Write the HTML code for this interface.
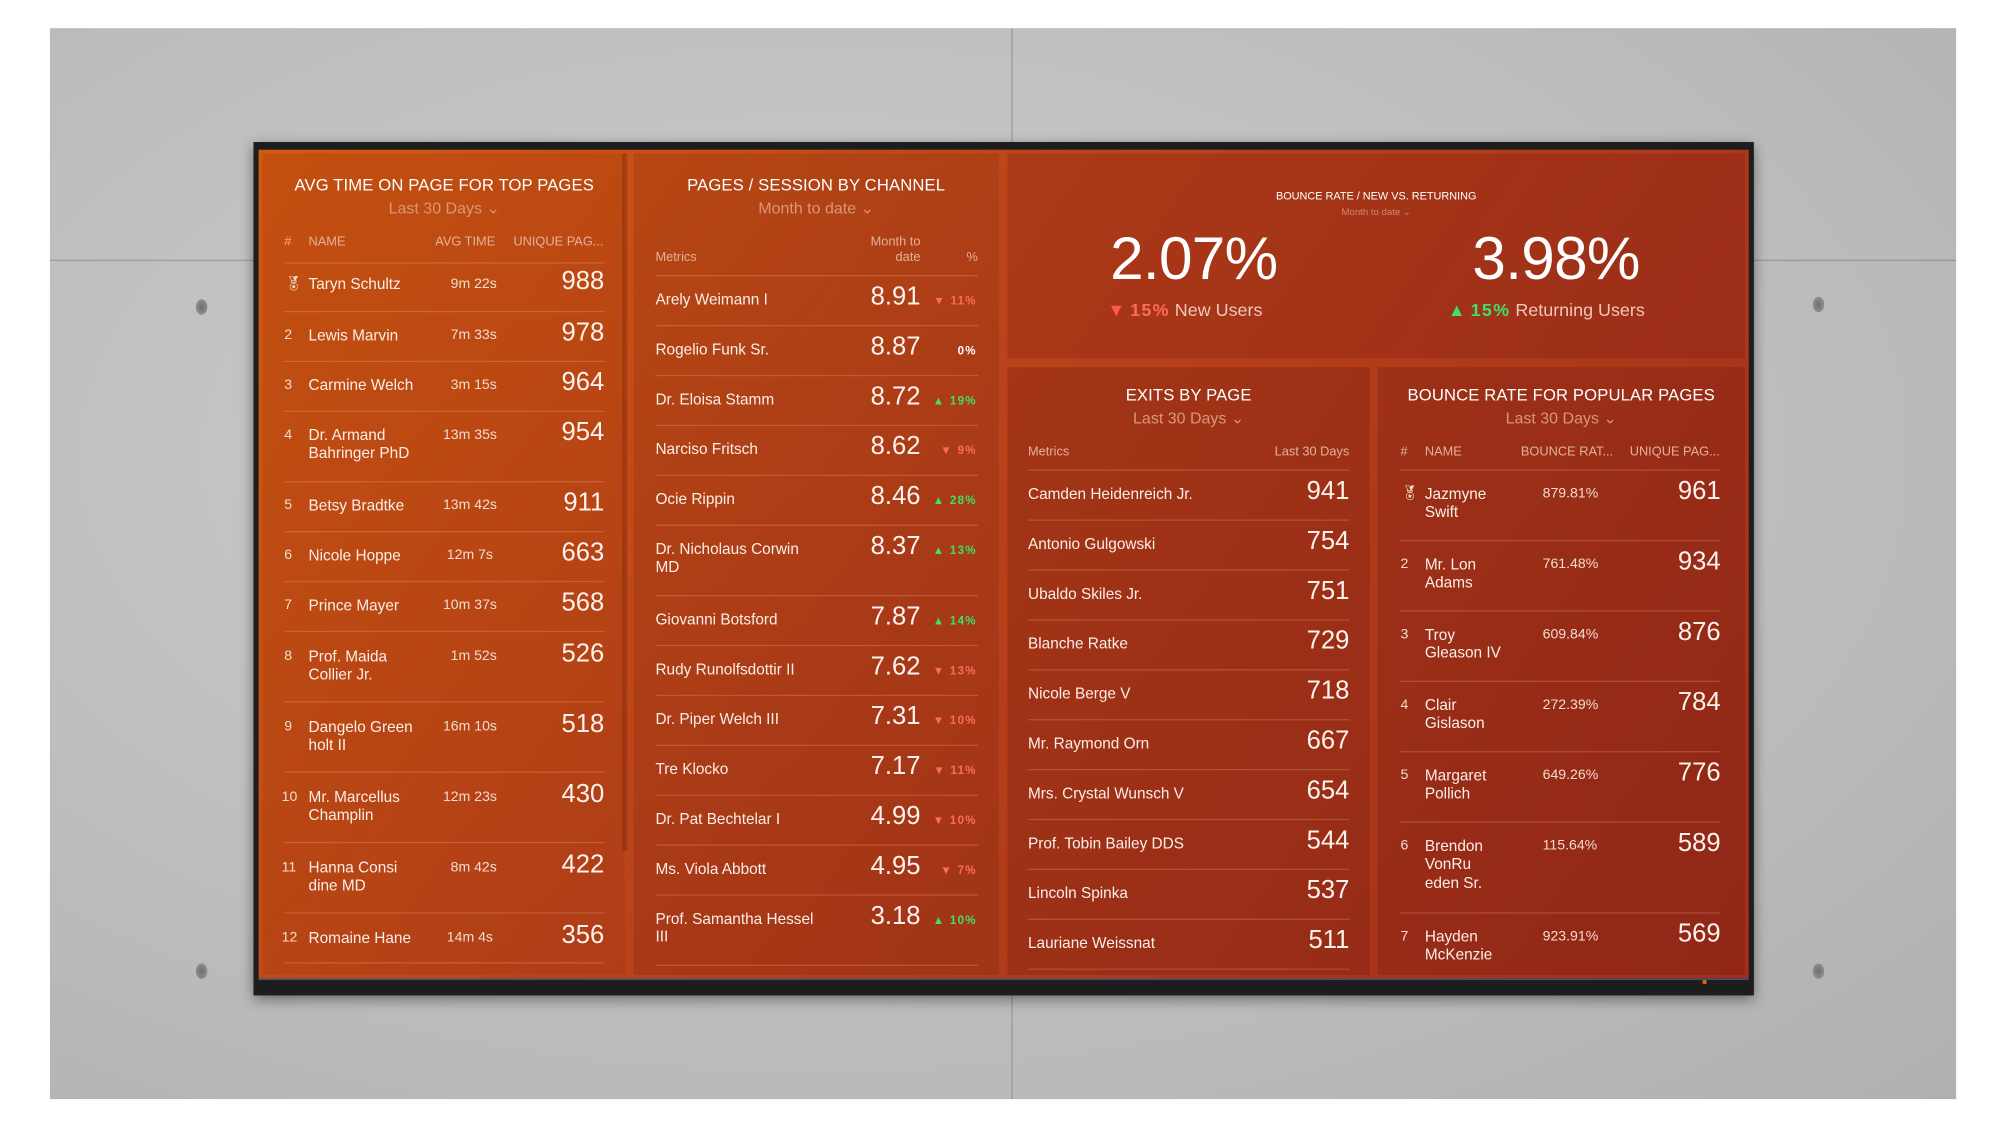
<!DOCTYPE html>
<html><head><meta charset="utf-8"><style>
html,body{margin:0;padding:0;background:#fff;overflow:hidden}
body{width:2001px;height:1126px;position:relative}
.s{position:absolute;left:0;top:0;width:1563px;height:880px;transform:scale(1.2802,1.2795);transform-origin:0 0;font-family:"Liberation Sans Narrow","Liberation Sans",sans-serif;color:#fff}
.wall{position:absolute;left:39px;top:22px;width:1489px;height:837px;background:radial-gradient(ellipse at 40% 40%,#cdcdcd,#bababa 70%,#b0b0b0)}
.seam{position:absolute;background:rgba(90,90,90,.35)}
.hole{position:absolute;width:9px;height:12px;border-radius:50%;background:radial-gradient(#6f6f6f,#9a9a9a)}
.frame{position:absolute;left:198px;top:111px;width:1172px;height:667px;background:#1d1d1d;box-shadow:0 3px 10px rgba(0,0,0,.45)}
.scr{position:absolute;left:202px;top:117px;width:1164px;height:648px;background:linear-gradient(125deg,#d05a12 0%,#b8421a 45%,#a02e1b 100%);border-bottom:1px solid #2a5a8a}
.p{position:absolute;overflow:hidden}
.t{position:absolute;white-space:nowrap;line-height:1.2}
.h{font-size:13px;letter-spacing:.1px}
.sub{font-size:12.5px;color:#d8977a}
.hd{font-size:10px;color:#e3b19a}
.n{font-size:12px;color:#fbeee8}
.v{font-size:20px;font-weight:300;color:#fdf3ee}
.sm{font-size:11px;color:#f3dccf}
.ln{position:absolute;height:1px;background:rgba(255,200,170,.22)}
.dn{color:#ff6a5a;font-size:9px;font-weight:bold;letter-spacing:1px}
.up{color:#3ee06a;font-size:9px;font-weight:bold;letter-spacing:1px}
.r{text-align:right}
</style></head><body><div class="s">
<div class="wall"></div>
<div class="seam" style="left:39px;top:203px;width:1489px;height:1px"></div>
<div class="seam" style="left:790px;top:22px;width:1px;height:837px"></div>
<div class="hole" style="left:153px;top:234px"></div>
<div class="hole" style="left:153px;top:753px"></div>
<div class="hole" style="left:1416px;top:232px"></div>
<div class="hole" style="left:1416px;top:753px"></div>
<div class="frame"></div>
<div class="scr"></div>
<!-- panel 1 -->
<div class="p" style="left:205px;top:120px;width:283px;height:642px;background:linear-gradient(160deg,rgba(170,60,10,.35),rgba(120,30,10,.15))"></div>
<div class="p" style="left:486px;top:120px;width:4px;height:545px;background:rgba(110,35,10,.35)"></div>
<div class="t h" style="left:205px;width:284px;text-align:center;top:137px">AVG TIME ON PAGE FOR TOP PAGES</div>
<div class="t sub" style="left:205px;width:284px;text-align:center;top:156px">Last 30 Days ⌄</div>
<div class="t hd" style="left:222px;top:184px">#</div>
<div class="t hd" style="left:241px;top:184px">NAME</div>
<div class="t hd" style="left:340px;top:184px">AVG TIME</div>
<div class="t hd" style="left:401px;top:184px">UNIQUE PAG...</div>
<div class="ln" style="left:222px;width:250px;top:205px"></div>
<div class="t sm" style="left:222px;top:216px">🏅︎</div>
<div class="t n" style="left:241px;top:215px">Taryn Schultz</div><div class="t sm" style="left:352px;top:216px">9m 22s</div><div class="t v r" style="left:400px;width:72px;top:208px">988</div>
<div class="ln" style="left:222px;width:250px;top:243px"></div>
<div class="t sm" style="left:222px;top:256px">2</div><div class="t n" style="left:241px;top:255px">Lewis Marvin</div><div class="t sm" style="left:352px;top:256px">7m 33s</div><div class="t v r" style="left:400px;width:72px;top:248px">978</div>
<div class="ln" style="left:222px;width:250px;top:282px"></div>
<div class="t sm" style="left:222px;top:295px">3</div><div class="t n" style="left:241px;top:294px">Carmine Welch</div><div class="t sm" style="left:352px;top:295px">3m 15s</div><div class="t v r" style="left:400px;width:72px;top:287px">964</div>
<div class="ln" style="left:222px;width:250px;top:321px"></div>
<div class="t sm" style="left:222px;top:334px">4</div><div class="t n" style="left:241px;top:333px">Dr. Armand<br>Bahringer PhD</div><div class="t sm" style="left:346px;top:334px">13m 35s</div><div class="t v r" style="left:400px;width:72px;top:326px">954</div>
<div class="ln" style="left:222px;width:250px;top:376px"></div>
<div class="t sm" style="left:222px;top:389px">5</div><div class="t n" style="left:241px;top:388px">Betsy Bradtke</div><div class="t sm" style="left:346px;top:389px">13m 42s</div><div class="t v r" style="left:400px;width:72px;top:381px">911</div>
<div class="ln" style="left:222px;width:250px;top:415px"></div>
<div class="t sm" style="left:222px;top:428px">6</div><div class="t n" style="left:241px;top:427px">Nicole Hoppe</div><div class="t sm" style="left:349px;top:428px">12m 7s</div><div class="t v r" style="left:400px;width:72px;top:420px">663</div>
<div class="ln" style="left:222px;width:250px;top:454px"></div>
<div class="t sm" style="left:222px;top:467px">7</div><div class="t n" style="left:241px;top:466px">Prince Mayer</div><div class="t sm" style="left:346px;top:467px">10m 37s</div><div class="t v r" style="left:400px;width:72px;top:459px">568</div>
<div class="ln" style="left:222px;width:250px;top:493px"></div>
<div class="t sm" style="left:222px;top:507px">8</div><div class="t n" style="left:241px;top:506px">Prof. Maida<br>Collier Jr.</div><div class="t sm" style="left:352px;top:507px">1m 52s</div><div class="t v r" style="left:400px;width:72px;top:499px">526</div>
<div class="ln" style="left:222px;width:250px;top:548px"></div>
<div class="t sm" style="left:222px;top:562px">9</div><div class="t n" style="left:241px;top:561px">Dangelo Green<br>holt II</div><div class="t sm" style="left:346px;top:562px">16m 10s</div><div class="t v r" style="left:400px;width:72px;top:554px">518</div>
<div class="ln" style="left:222px;width:250px;top:603px"></div>
<div class="t sm" style="left:220px;top:617px">10</div><div class="t n" style="left:241px;top:616px">Mr. Marcellus<br>Champlin</div><div class="t sm" style="left:346px;top:617px">12m 23s</div><div class="t v r" style="left:400px;width:72px;top:609px">430</div>
<div class="ln" style="left:222px;width:250px;top:658px"></div>
<div class="t sm" style="left:220px;top:672px">11</div><div class="t n" style="left:241px;top:671px">Hanna Consi<br>dine MD</div><div class="t sm" style="left:352px;top:672px">8m 42s</div><div class="t v r" style="left:400px;width:72px;top:664px">422</div>
<div class="ln" style="left:222px;width:250px;top:713px"></div>
<div class="t sm" style="left:220px;top:727px">12</div><div class="t n" style="left:241px;top:726px">Romaine Hane</div><div class="t sm" style="left:349px;top:727px">14m 4s</div><div class="t v r" style="left:400px;width:72px;top:719px">356</div>
<div class="ln" style="left:222px;width:250px;top:752px"></div>
<!-- panel 2 -->
<div class="p" style="left:495px;top:120px;width:285px;height:642px;background:linear-gradient(160deg,rgba(120,35,10,.2),rgba(100,20,10,.2))"></div>
<div class="t h" style="left:495px;width:285px;text-align:center;top:137px">PAGES / SESSION BY CHANNEL</div>
<div class="t sub" style="left:495px;width:285px;text-align:center;top:156px">Month to date ⌄</div>
<div class="t hd" style="left:512px;top:196px">Metrics</div>
<div class="t hd r" style="left:660px;width:59px;top:184px;line-height:12px">Month to<br>date</div>
<div class="t hd" style="left:755px;top:196px">%</div>
<div class="ln" style="left:512px;width:252px;top:215px"></div>
<div class="t n" style="left:512px;top:227px">Arely Weimann I</div><div class="t v r" style="left:650px;width:69px;top:220px">8.91</div><div class="t dn r" style="left:720px;width:43px;top:230px">▼ 11%</div>
<div class="ln" style="left:512px;width:252px;top:254px"></div>
<div class="t n" style="left:512px;top:266px">Rogelio Funk Sr.</div><div class="t v r" style="left:650px;width:69px;top:259px">8.87</div><div class="t r" style="left:720px;width:43px;top:269px;font-size:9px;font-weight:bold;letter-spacing:1px">0%</div>
<div class="ln" style="left:512px;width:252px;top:293px"></div>
<div class="t n" style="left:512px;top:305px">Dr. Eloisa Stamm</div><div class="t v r" style="left:650px;width:69px;top:298px">8.72</div><div class="t up r" style="left:720px;width:43px;top:308px">▲ 19%</div>
<div class="ln" style="left:512px;width:252px;top:332px"></div>
<div class="t n" style="left:512px;top:344px">Narciso Fritsch</div><div class="t v r" style="left:650px;width:69px;top:337px">8.62</div><div class="t dn r" style="left:720px;width:43px;top:347px">▼ 9%</div>
<div class="ln" style="left:512px;width:252px;top:371px"></div>
<div class="t n" style="left:512px;top:383px">Ocie Rippin</div><div class="t v r" style="left:650px;width:69px;top:376px">8.46</div><div class="t up r" style="left:720px;width:43px;top:386px">▲ 28%</div>
<div class="ln" style="left:512px;width:252px;top:410px"></div>
<div class="t n" style="left:512px;top:422px">Dr. Nicholaus Corwin<br>MD</div><div class="t v r" style="left:650px;width:69px;top:415px">8.37</div><div class="t up r" style="left:720px;width:43px;top:425px">▲ 13%</div>
<div class="ln" style="left:512px;width:252px;top:465px"></div>
<div class="t n" style="left:512px;top:477px">Giovanni Botsford</div><div class="t v r" style="left:650px;width:69px;top:470px">7.87</div><div class="t up r" style="left:720px;width:43px;top:480px">▲ 14%</div>
<div class="ln" style="left:512px;width:252px;top:504px"></div>
<div class="t n" style="left:512px;top:516px">Rudy Runolfsdottir II</div><div class="t v r" style="left:650px;width:69px;top:509px">7.62</div><div class="t dn r" style="left:720px;width:43px;top:519px">▼ 13%</div>
<div class="ln" style="left:512px;width:252px;top:543px"></div>
<div class="t n" style="left:512px;top:555px">Dr. Piper Welch III</div><div class="t v r" style="left:650px;width:69px;top:548px">7.31</div><div class="t dn r" style="left:720px;width:43px;top:558px">▼ 10%</div>
<div class="ln" style="left:512px;width:252px;top:582px"></div>
<div class="t n" style="left:512px;top:594px">Tre Klocko</div><div class="t v r" style="left:650px;width:69px;top:587px">7.17</div><div class="t dn r" style="left:720px;width:43px;top:597px">▼ 11%</div>
<div class="ln" style="left:512px;width:252px;top:621px"></div>
<div class="t n" style="left:512px;top:633px">Dr. Pat Bechtelar I</div><div class="t v r" style="left:650px;width:69px;top:626px">4.99</div><div class="t dn r" style="left:720px;width:43px;top:636px">▼ 10%</div>
<div class="ln" style="left:512px;width:252px;top:660px"></div>
<div class="t n" style="left:512px;top:672px">Ms. Viola Abbott</div><div class="t v r" style="left:650px;width:69px;top:665px">4.95</div><div class="t dn r" style="left:720px;width:43px;top:675px">▼ 7%</div>
<div class="ln" style="left:512px;width:252px;top:699px"></div>
<div class="t n" style="left:512px;top:711px">Prof. Samantha Hessel<br>III</div><div class="t v r" style="left:650px;width:69px;top:704px">3.18</div><div class="t up r" style="left:720px;width:43px;top:714px">▲ 10%</div>
<div class="ln" style="left:512px;width:252px;top:754px"></div>
<!-- panel 3 -->
<div class="p" style="left:787px;top:120px;width:576px;height:160px;background:rgba(110,20,12,.22)"></div>
<div class="t" style="left:787px;width:576px;text-align:center;top:148px;font-size:8.5px">BOUNCE RATE / NEW VS. RETURNING</div>
<div class="t" style="left:787px;width:576px;text-align:center;top:161px;font-size:7.5px;color:#d08a70">Month to date ⌄</div>
<div class="t" style="left:800px;width:265px;text-align:center;top:174px;font-size:47px;font-weight:300;letter-spacing:-0.5px">2.07%</div>
<div class="t" style="left:1083px;width:265px;text-align:center;top:174px;font-size:47px;font-weight:300;letter-spacing:-0.5px">3.98%</div>
<div class="t" style="left:865px;top:234px;font-size:14px"><span style="color:#ff5a4a">▼</span> <span style="color:#ff6a5a;font-weight:bold;letter-spacing:1px">15%</span> <span style="color:#f0c8b8">New Users</span></div>
<div class="t" style="left:1131px;top:234px;font-size:14px"><span style="color:#3ee06a">▲</span> <span style="color:#3ee06a;font-weight:bold;letter-spacing:1px">15%</span> <span style="color:#f0c8b8">Returning Users</span></div>
<!-- panel 4 -->
<div class="p" style="left:787px;top:287px;width:283px;height:475px;background:rgba(100,15,12,.25)"></div>
<div class="t h" style="left:787px;width:283px;text-align:center;top:301px">EXITS BY PAGE</div>
<div class="t sub" style="left:787px;width:283px;text-align:center;top:320px">Last 30 Days ⌄</div>
<div class="t hd" style="left:803px;top:348px">Metrics</div>
<div class="t hd r" style="left:960px;width:94px;top:348px">Last 30 Days</div>
<div class="ln" style="left:803px;width:251px;top:367px"></div>
<div class="t n" style="left:803px;top:379px">Camden Heidenreich Jr.</div><div class="t v r" style="left:980px;width:74px;top:372px">941</div>
<div class="ln" style="left:803px;width:251px;top:406px"></div>
<div class="t n" style="left:803px;top:418px">Antonio Gulgowski</div><div class="t v r" style="left:980px;width:74px;top:411px">754</div>
<div class="ln" style="left:803px;width:251px;top:445px"></div>
<div class="t n" style="left:803px;top:457px">Ubaldo Skiles Jr.</div><div class="t v r" style="left:980px;width:74px;top:450px">751</div>
<div class="ln" style="left:803px;width:251px;top:484px"></div>
<div class="t n" style="left:803px;top:496px">Blanche Ratke</div><div class="t v r" style="left:980px;width:74px;top:489px">729</div>
<div class="ln" style="left:803px;width:251px;top:523px"></div>
<div class="t n" style="left:803px;top:535px">Nicole Berge V</div><div class="t v r" style="left:980px;width:74px;top:528px">718</div>
<div class="ln" style="left:803px;width:251px;top:562px"></div>
<div class="t n" style="left:803px;top:574px">Mr. Raymond Orn</div><div class="t v r" style="left:980px;width:74px;top:567px">667</div>
<div class="ln" style="left:803px;width:251px;top:601px"></div>
<div class="t n" style="left:803px;top:613px">Mrs. Crystal Wunsch V</div><div class="t v r" style="left:980px;width:74px;top:606px">654</div>
<div class="ln" style="left:803px;width:251px;top:640px"></div>
<div class="t n" style="left:803px;top:652px">Prof. Tobin Bailey DDS</div><div class="t v r" style="left:980px;width:74px;top:645px">544</div>
<div class="ln" style="left:803px;width:251px;top:679px"></div>
<div class="t n" style="left:803px;top:691px">Lincoln Spinka</div><div class="t v r" style="left:980px;width:74px;top:684px">537</div>
<div class="ln" style="left:803px;width:251px;top:718px"></div>
<div class="t n" style="left:803px;top:730px">Lauriane Weissnat</div><div class="t v r" style="left:980px;width:74px;top:723px">511</div>
<div class="ln" style="left:803px;width:251px;top:757px"></div>
<!-- panel 5 -->
<div class="p" style="left:1076px;top:287px;width:287px;height:475px;background:rgba(100,15,12,.25)"></div>
<div class="t h" style="left:1076px;width:287px;text-align:center;top:301px">BOUNCE RATE FOR POPULAR PAGES</div>
<div class="t sub" style="left:1076px;width:287px;text-align:center;top:320px">Last 30 Days ⌄</div>
<div class="t hd" style="left:1094px;top:348px">#</div>
<div class="t hd" style="left:1113px;top:348px">NAME</div>
<div class="t hd" style="left:1188px;top:348px">BOUNCE RAT...</div>
<div class="t hd" style="left:1273px;top:348px">UNIQUE PAG...</div>
<div class="ln" style="left:1093px;width:251px;top:367px"></div>
<div class="t sm" style="left:1094px;top:380px">🏅︎</div><div class="t n" style="left:1113px;top:379px">Jazmyne<br>Swift</div><div class="t sm" style="left:1205px;top:380px">879.81%</div><div class="t v r" style="left:1270px;width:74px;top:372px">961</div>
<div class="ln" style="left:1093px;width:251px;top:422px"></div>
<div class="t sm" style="left:1094px;top:435px">2</div><div class="t n" style="left:1113px;top:434px">Mr. Lon<br>Adams</div><div class="t sm" style="left:1205px;top:435px">761.48%</div><div class="t v r" style="left:1270px;width:74px;top:427px">934</div>
<div class="ln" style="left:1093px;width:251px;top:477px"></div>
<div class="t sm" style="left:1094px;top:490px">3</div><div class="t n" style="left:1113px;top:489px">Troy<br>Gleason IV</div><div class="t sm" style="left:1205px;top:490px">609.84%</div><div class="t v r" style="left:1270px;width:74px;top:482px">876</div>
<div class="ln" style="left:1093px;width:251px;top:532px"></div>
<div class="t sm" style="left:1094px;top:545px">4</div><div class="t n" style="left:1113px;top:544px">Clair<br>Gislason</div><div class="t sm" style="left:1205px;top:545px">272.39%</div><div class="t v r" style="left:1270px;width:74px;top:537px">784</div>
<div class="ln" style="left:1093px;width:251px;top:587px"></div>
<div class="t sm" style="left:1094px;top:600px">5</div><div class="t n" style="left:1113px;top:599px">Margaret<br>Pollich</div><div class="t sm" style="left:1205px;top:600px">649.26%</div><div class="t v r" style="left:1270px;width:74px;top:592px">776</div>
<div class="ln" style="left:1093px;width:251px;top:642px"></div>
<div class="t sm" style="left:1094px;top:655px">6</div><div class="t n" style="left:1113px;top:654px">Brendon<br>VonRu<br>eden Sr.</div><div class="t sm" style="left:1205px;top:655px">115.64%</div><div class="t v r" style="left:1270px;width:74px;top:647px">589</div>
<div class="ln" style="left:1093px;width:251px;top:713px"></div>
<div class="t sm" style="left:1094px;top:726px">7</div><div class="t n" style="left:1113px;top:725px">Hayden<br>McKenzie</div><div class="t sm" style="left:1205px;top:726px">923.91%</div><div class="t v r" style="left:1270px;width:74px;top:718px">569</div>
<div style="position:absolute;left:1330px;top:766px;width:3px;height:3px;background:#e0651a"></div>
</div></body></html>
